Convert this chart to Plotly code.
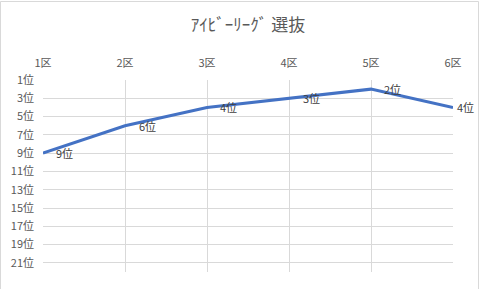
import plotly.graph_objects as go

title_text = "ｱｲﾋﾞｰﾘｰｸﾞ 選抜"
categories = ["1区", "2区", "3区", "4区", "5区", "6区"]
ranks = [9, 6, 4, 3, 2, 4]
rank_labels = [f"{r}位" for r in ranks]
y_ticks = list(range(1, 22, 2))
y_tick_labels = [f"{t}位" for t in y_ticks]

FONT = "Noto Sans CJK JP"
L, R, T, B = 43, 27, 80, 17
W, H = 480, 289
pw, ph = W - L - R, H - T - B

fig = go.Figure()
fig.add_trace(go.Scatter(
    x=categories, y=ranks, mode="lines",
    line=dict(color="#4472C4", width=3),
    hoverinfo="skip", showlegend=False,
))

label_xshift = [11, 12, 11, 12, 11, 2]
for c, r, t, xs in zip(categories, ranks, rank_labels, label_xshift):
    fig.add_annotation(x=c, y=r, text=t, showarrow=False, xanchor="left",
                       yanchor="middle", xshift=xs, yshift=0,
                       font=dict(family=FONT, size=11, color="#404040"))

# chart area border
def px2x(p):
    return (p - L) / pw

def py2y(p):
    return (H - B - p) / ph

fig.add_shape(type="rect", xref="paper", yref="paper",
              x0=px2x(0.5), x1=px2x(478.5), y0=py2y(300), y1=py2y(1.5),
              line=dict(color="#d9d9d9", width=1), layer="below")

fig.update_layout(
    width=W, height=H,
    margin=dict(l=L, r=R, t=T, b=B, autoexpand=False),
    paper_bgcolor="white", plot_bgcolor="white",
    title=dict(text=title_text, x=0.5, xref="paper", xanchor="center",
               y=1 - 25 / H, yref="container", yanchor="middle",
               font=dict(family=FONT, size=17, color="#595959")),
    xaxis=dict(type="category", side="top", range=[0, 5],
               showgrid=True, gridcolor="#d9d9d9", gridwidth=1,
               showline=False, zeroline=False, ticks="",
               ticklabelstandoff=10,
               tickfont=dict(family=FONT, size=11, color="#595959")),
    yaxis=dict(range=[22, 1], tickvals=y_ticks, ticktext=y_tick_labels,
               showgrid=True, gridcolor="#d9d9d9", gridwidth=1,
               showline=False, zeroline=False, ticks="",
               ticklabelstandoff=8,
               tickfont=dict(family=FONT, size=11, color="#595959")),
)

fig.write_html("out.html")
